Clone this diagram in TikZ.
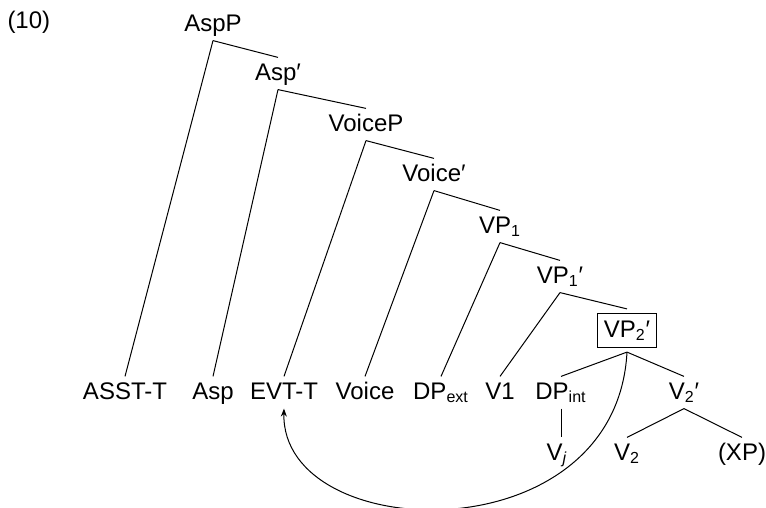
\documentclass[tikz,border=0pt]{standalone}
\usepackage{fontspec}
\setmainfont{Liberation Sans}
\usetikzlibrary{arrows.meta}

\begin{document}
\begin{tikzpicture}[x=0.5pt, y=-0.5pt, line width=0.5pt,
    lbl/.style={font=\fontsize{12}{14}\selectfont, inner sep=2.5pt, text height=8.6pt, text depth=2pt},
    boxed/.style={lbl, draw, inner sep=3pt, outer sep=2.5pt}]
    \useasboundingbox (0,0) rectangle (766,508);

    % Example number
    \node[lbl, anchor=west] (exnum) at (2,21.5) {(10)};

    % Spine of the tree
    \node[lbl] (aspp) at (213,24.5) {AspP};
    \node[lbl] (aspbar) at (278,73.5) {Asp′};
    \node[lbl] (voicep) at (366,124.5) {VoiceP};
    \node[lbl] (voicebar) at (434,174.5) {Voice′};
    \node[lbl] (vpone) at (500,226.5) {VP\textsubscript{1}};
    \node[lbl] (vponebar) at (560,276.5) {VP\textsubscript{1}′};
    \node[boxed] (vptwobar) at (627,330.5) {VP\textsubscript{2}′};

    % Terminal row
    \node[lbl] (asst) at (125,392.5) {ASST-T};
    \node[lbl] (asp) at (213,392.5) {Asp};
    \node[lbl] (evtt) at (284,392.5) {EVT-T};
    \node[lbl] (voice) at (365,392.5) {Voice};
    \node[lbl] (dpext) at (441,392.5) {DP\textsubscript{ext}};
    \node[lbl] (vone) at (500,392.5) {V1};
    \node[lbl] (dpint) at (561,392.5) {DP\textsubscript{int}};
    \node[lbl] (vtwobar) at (684,392.5) {V\textsubscript{2}′};

    % Lowest row
    \node[lbl] (vj) at (557,453.5) {V\textsubscript{\itshape j}};
    \node[lbl] (vtwo) at (627,453.5) {V\textsubscript{2}};
    \node[lbl] (xp) at (742,453.5) {(XP)};

    % Branches
    \draw (aspp.south) -- (asst.north);
    \draw (aspp.south) -- (aspbar.north);
    \draw (aspbar.south) -- (asp.north);
    \draw (aspbar.south) -- (voicep.north);
    \draw (voicep.south) -- (evtt.north);
    \draw (voicep.south) -- (voicebar.north);
    \draw (voicebar.south) -- (voice.north);
    \draw (voicebar.south) -- (vpone.north);
    \draw (vpone.south) -- (dpext.north);
    \draw (vpone.south) -- (vponebar.north);
    \draw (vponebar.south) -- (vone.north);
    \draw (vponebar.south) -- (vptwobar.north);
    \draw (vptwobar.south) -- (dpint.north);
    \draw (vptwobar.south) -- (vtwobar.north);
    \draw (dpint.south) -- (dpint.south |- vj.north);
    \draw (vtwobar.south) -- (vtwo.north);
    \draw (vtwobar.south) -- (xp.north);

    % Movement arc
    \draw[-{Stealth[length=4pt,width=3pt]}] (vptwobar.south) .. controls +(-11,205) and +(-3,137) .. (evtt.south);
\end{tikzpicture}
\end{document}
